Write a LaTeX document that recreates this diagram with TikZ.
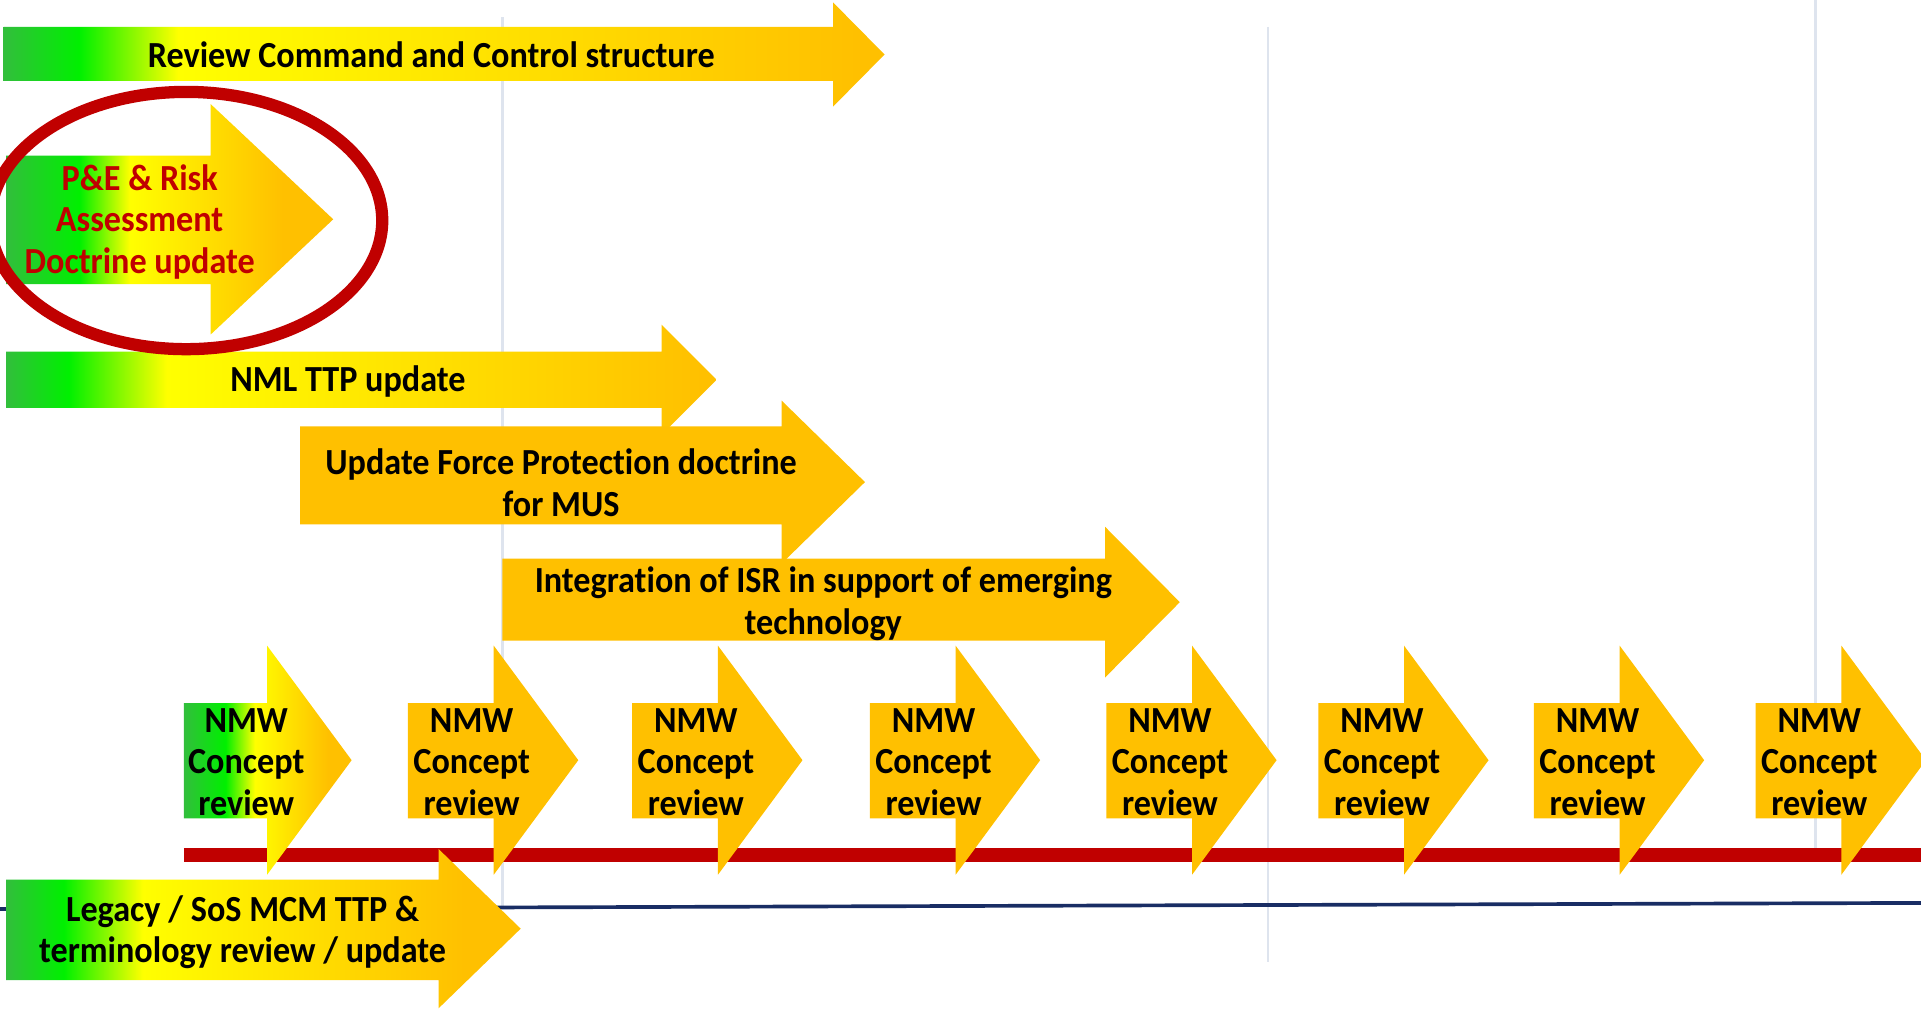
\documentclass[tikz,border=0pt]{standalone}
\usepackage{fontspec}
\setmainfont{Carlito}[Ligatures=NoCommon, FakeStretch=0.93]
\definecolor{gA}{RGB}{50,190,60}
\definecolor{gB}{RGB}{0,240,0}
\definecolor{gY}{RGB}{255,255,0}
\definecolor{gG}{RGB}{255,192,0}
\definecolor{dred}{RGB}{192,0,0}
\definecolor{navy}{RGB}{25,45,100}
\definecolor{vline}{RGB}{222,228,238}
\newcommand{\gshade}[4]{\pgfdeclarehorizontalshading{#1}{100bp}{color(0bp)=(gA); color(25bp)=(gA); color(#2bp)=(gB); color(#3bp)=(gY); color(#4bp)=(gG); color(100bp)=(gG)}}
\gshade{shA}{29.3}{34.9}{73.5}
\gshade{shC}{29.4}{36.3}{74}
\gshade{shB}{36.2}{43.9}{67.3}
\gshade{shL}{30.6}{38.3}{69.5}
\gshade{shN}{37.4}{46.2}{68}
% #1 style, #2 x0, #3 head base x, #4 tip x, #5 body top, #6 body bottom, #7 head top, #8 head bottom
\newcommand{\garrow}[8]{%
  \path[#1] (#2,#5) -- (#3,#5) -- (#3,#7) -- (#4,{(#7+#8)/2}) -- (#3,#8) -- (#3,#6) -- (#2,#6) -- cycle;}
\tikzset{
  lbl/.style={font=\bfseries\fontsize{15}{17}\selectfont, align=center, text=black, inner sep=0pt},
  solidarrow/.style={fill=gG},
  grid line/.style={draw=vline, line width=1pt},
}
\begin{document}
\begin{tikzpicture}[x=0.5pt,y=-0.5pt]
\useasboundingbox (0,0) rectangle (1568,823.6);
\clip (0,0) rectangle (1568,823.6);
\fill[white] (0,0) rectangle (1568,823.6);
% faint vertical grid lines
\coordinate (v1t) at (410,14); \coordinate (v1b) at (410,740);
\coordinate (v2t) at (1035,22); \coordinate (v2b) at (1035,785);
\coordinate (v3t) at (1482,0); \coordinate (v3b) at (1482,700);
\draw[grid line] (v1t) -- (v1b);
\draw[grid line] (v2t) -- (v2b);
\draw[grid line] (v3t) -- (v3b);
% blue baseline
\coordinate (bl) at (0,742); \coordinate (br) at (1568,737);
\draw[navy, line width=1.5pt] (bl) -- (br);
% red timeline
\coordinate (rl) at (150,698); \coordinate (rr) at (1570,698);
\draw[dred, line width=6pt] (rl) -- (rr);
% arrows
\garrow{shade,shading=shA}{3}{680}{722}{22}{66}{2}{87}
\node[lbl] (tA) at (352,45) {Review Command and Control structure};
\garrow{shade,shading=shB}{5}{172}{272}{127}{232}{85}{273}
\node[lbl, text=dred] (tB) at (114,181) {P\&E \& Risk\\Assessment\\Doctrine update};
\garrow{shade,shading=shC}{5}{540}{585}{287}{333}{265}{355}
\node[lbl] (tC) at (284,311) {NML TTP update};
\garrow{solidarrow}{245}{638}{706}{348}{428}{327}{460}
\node[lbl] (tD) at (458,394) {Update Force Protection doctrine\\for MUS};
\garrow{solidarrow}{410}{902}{963}{456}{523}{430}{553}
\node[lbl] (tE) at (672,493) {Integration of ISR in support of emerging\\technology};
% NMW concept reviews
\garrow{shade,shading=shN}{150}{218}{287}{574}{668}{527}{714}
\node[lbl] (nmw1) at (201,622) {NMW\\Concept\\review};
\foreach \x/\i in {333/2,516/3,710/4,903/5,1076/6,1252/7,1433/8}{
  \garrow{solidarrow}{\x}{\x+70}{\x+139}{574}{668}{527}{714}
  \node[lbl] (nmw\i) at (\x+52,622) {NMW\\Concept\\review};
}
% legacy
\garrow{shade,shading=shL}{5}{358}{425}{718}{800}{693}{823}
\node[lbl] (tL) at (198,761) {Legacy / SoS MCM TTP \&\\terminology review / update};
% highlight ellipse
\coordinate (hl) at (152,180);
\draw[dred, line width=5pt] (hl) ellipse [x radius=160, y radius=105];
\end{tikzpicture}
\end{document}
